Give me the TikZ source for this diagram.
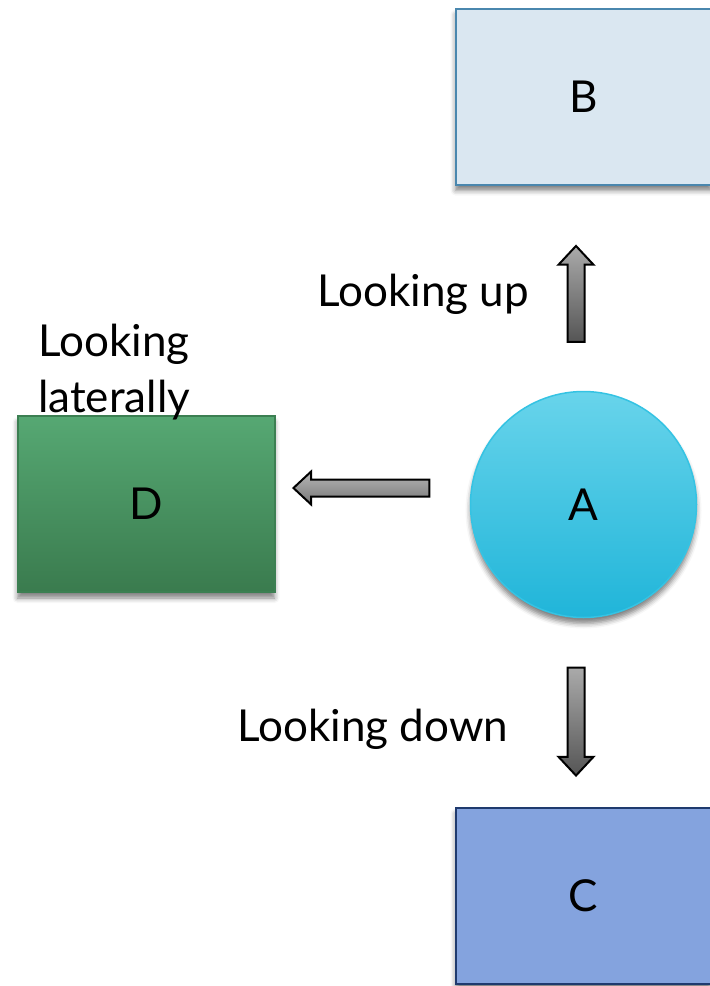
\documentclass[tikz,border=0pt]{standalone}
\usepackage{fontspec}
\setmainfont{Lato}
\usetikzlibrary{shapes.arrows,shadows.blur}

\definecolor{bfill}{HTML}{DAE7F1}
\definecolor{bline}{HTML}{4A87AE}
\definecolor{cfill}{HTML}{84A3DE}
\definecolor{cline}{HTML}{1F3A6E}
\definecolor{dtop}{HTML}{56A873}
\definecolor{dbot}{HTML}{3A7B4E}
\definecolor{dline}{HTML}{3C7F52}
\definecolor{atop}{HTML}{68D4EB}
\definecolor{abot}{HTML}{20B5D9}
\definecolor{aline}{HTML}{35C3E3}
\definecolor{arrtop}{HTML}{AAAAAA}
\definecolor{arrbot}{HTML}{555555}

\begin{document}
\begin{tikzpicture}[x=1pt,y=-1pt,
  lbl/.style={font=\fontsize{44}{56}\selectfont, inner sep=0pt},
  box/.style={rectangle, line width=2pt, minimum width=256pt, minimum height=176pt,
    font=\fontsize{44}{56}\selectfont,
    blur shadow={shadow xshift=0pt, shadow yshift=-6pt, shadow blur radius=5pt, shadow opacity=50}},
  blockarrow/.style={single arrow, draw=black, line width=2pt, inner sep=7.5pt,
    single arrow head extend=9pt, single arrow tip angle=86,
    top color=arrtop, bottom color=arrbot}
]
\useasboundingbox (0,0) rectangle (710,986);
\clip (0,0) rectangle (710,986);

% boxes and the central circle
\node[box, draw=bline, fill=bfill] (B) at (583.5,96.5) {B};
\node[box, draw=cline, fill=cfill] (C) at (583.5,895.5) {C};
\node[box, draw=dline, top color=dtop, bottom color=dbot, minimum width=257pt] (D) at (146,504) {D};
\node[circle, draw=aline, line width=1.5pt, minimum size=226pt, top color=atop, bottom color=abot,
  font=\fontsize{44}{56}\selectfont,
  blur shadow={shadow xshift=0pt, shadow yshift=-6pt, shadow blur radius=5pt, shadow opacity=50}]
  (A) at (583.5,504.5) {A};

% block arrows
\node[blockarrow, shape border rotate=90, minimum height=96pt] (up) at (576,298.5) {};
\node[blockarrow, shape border rotate=270, minimum height=108pt] (down) at (576,717) {};
\node[blockarrow, shape border rotate=180, minimum height=136pt, single arrow head extend=8pt,
  top color=arrtop!85, bottom color=arrbot!80] (left) at (366,488) {};

% labels
\node[lbl, anchor=base west] (lup) at (317,306) {Looking up};
\node[lbl, anchor=base west] (ldown) at (237,741) {Looking down};
\node[lbl, anchor=base west, align=left] (llat) at (38,412) {Looking\\laterally};
\end{tikzpicture}
\end{document}
